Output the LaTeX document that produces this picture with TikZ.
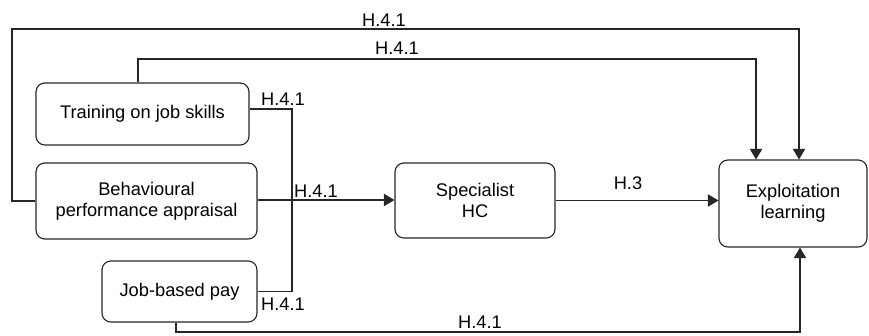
\documentclass[tikz,border=0pt]{standalone}
\usepackage{fontspec}
\setmainfont{Liberation Sans}
\usetikzlibrary{arrows.meta}

\begin{document}
\begin{tikzpicture}[x=0.02cm, y=-0.02cm, line width=0.65pt, draw=black!85,
      >={Triangle[width=7pt, length=6pt]},
      blk/.style={draw=black!85, rounded corners=5pt, align=center,
                  font=\fontsize{10.4}{12}\selectfont, inner sep=0pt},
      arr/.style={->},
      lbl/.style={font=\fontsize{10.4}{12}\selectfont, inner sep=0pt}]

    \useasboundingbox (0,0) rectangle (869,335);

    % HR practice boxes
    \node[blk, minimum width=4.26cm, minimum height=1.24cm] (train) at (142.5,114) {Training on job skills};
    \node[blk, minimum width=4.42cm, minimum height=1.52cm] (behav) at (146.5,201) {Behavioural\\performance appraisal};
    \node[blk, minimum width=3.10cm, minimum height=1.22cm] (pay) at (179.5,291.5) {Job-based pay};

    % mediator and outcome
    \node[blk, minimum width=3.20cm, minimum height=1.50cm] (spec) at (475,200.5) {Specialist\\HC};
    \node[blk, minimum width=2.96cm, minimum height=1.74cm] (expl) at (793,203.5) {Exploitation\\learning};

    % routing points
    \coordinate (loopA) at (12,29);
    \coordinate (loopB) at (138,59);
    \coordinate (bus) at (292,200);
    \coordinate (floor) at (176,332);

    % joint path into the mediator
    \draw ([yshift=0.1cm]train.east) -| (bus) |- (pay.east);
    \draw[arr] ([yshift=0.02cm]behav.east) -- ([yshift=0.02cm]behav.east -| spec.west);
    \draw[arr] (spec.east) -- (spec.east -| expl.west);

    % direct paths to the outcome
    \draw[arr] (behav.west) -| (loopA) -| ([xshift=0.12cm]expl.north);
    \draw[arr] (train.north -| loopB) -- (loopB) -| ([xshift=-0.74cm]expl.north);
    \draw[arr] (pay.south -| floor) -- (floor) -| ([xshift=0.14cm]expl.south);

    % path labels
    \node[lbl] (hOuter) at (384,20) {H.4.1};
    \node[lbl] (hInner) at (397,48) {H.4.1};
    \node[lbl] (hTrain) at (283,99) {H.4.1};
    \node[lbl] (hBehav) at (316,191) {H.4.1};
    \node[lbl] (hPay) at (283,304) {H.4.1};
    \node[lbl] (hSpec) at (628,183) {H.3};
    \node[lbl] (hFloor) at (480,322) {H.4.1};

\end{tikzpicture}
\end{document}
